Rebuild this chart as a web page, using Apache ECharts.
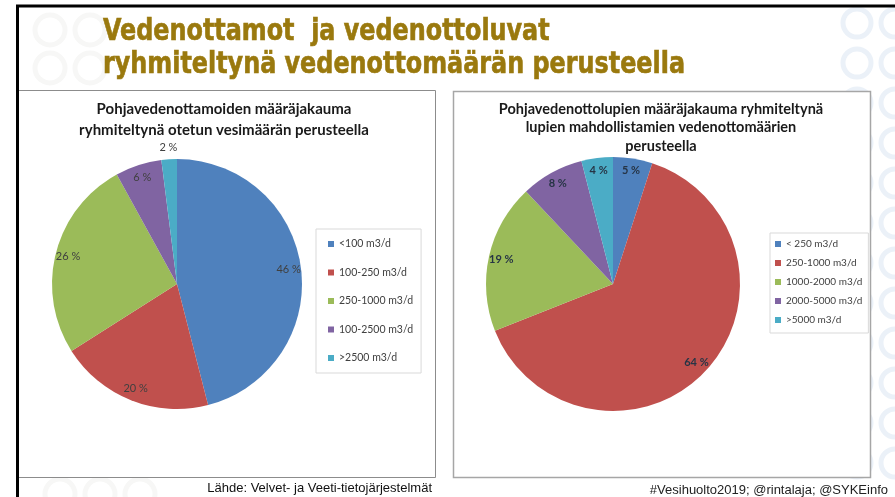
<!DOCTYPE html>
<html>
<head>
<meta charset="utf-8">
<script src="https://cdn.jsdelivr.net/npm/echarts@6/dist/echarts.min.js"></script>
<style>
  html, body { margin: 0; padding: 0; background: #fff; }
  #main { width: 895px; height: 497px; }
</style>
</head>
<body>
<div id="main"></div>
<script>
// pie 1: pohjavedenottamot
var leftNames = ['<100 m3/d', '100-250 m3/d', '250-1000 m3/d', '100-2500 m3/d', '>2500 m3/d'];
var leftValues = [46, 20, 26, 6, 2];
// pie 2: vedenottoluvat
var rightNames = ['< 250 m3/d', '250-1000 m3/d', '1000-2000 m3/d', '2000-5000 m3/d', '>5000 m3/d'];
var rightValues = [5, 64, 19, 8, 4];

var colors = ['#4f81bd', '#c0504d', '#9bbb59', '#8064a2', '#4bacc6'];

var titleFont = 'bold 30px "Liberation Sans Narrow", "DejaVu Sans Condensed", "Liberation Sans", sans-serif';

function fitScale(text, font, w) {
	var c = document.createElement('canvas').getContext('2d');
	c.font = font;
	return w / c.measureText(text).width;
}

function pieData(names, values) {
	return names.map(function(n, i) {
		return { name: n, value: values[i], itemStyle: { color: colors[i] } };
	});
}

// label ring: transparent pie on top so labels sit near the outer edge like excel
// only: list of indexes that get a label on this ring
function labelData(names, values, only) {
	return names.map(function(n, i) {
		return { name: n, value: values[i], label: { show: only.indexOf(i) >= 0 } };
	});
}

function legendData(names) {
	return names.map(function(n, i) {
		return { name: n, itemStyle: { color: colors[i] } };
	});
}

function labelRing(center, radius, names, values, only, lbl) {
	return {
		type: 'pie', center: center, radius: radius, startAngle: 90, clockwise: true, silent: true,
		itemStyle: { color: 'rgba(0,0,0,0)' }, emphasis: { disabled: true }, legendHoverLink: false,
		label: Object.assign({ show: true, position: 'inside', formatter: '{c} %', fontFamily: 'Lato', fontSize: 11 }, lbl),
		labelLine: { show: false },
		data: labelData(names, values, only)
	};
}

// background rings
var rings = [];
[23, 63, 103, 143, 183, 223, 263, 303, 343, 383, 423, 463].forEach(function(y) {
	[857, 895].forEach(function(x) {
		rings.push({ type: 'circle', z: -10, silent: true, shape: { cx: x, cy: y, r: 14 },
			style: { fill: null, stroke: '#ebf1f8', lineWidth: 5 } });
	});
});
[[50, 30], [90, 30], [50, 68], [90, 68], [60, 494], [100, 494], [140, 494]].forEach(function(p) {
	rings.push({ type: 'circle', z: -10, silent: true, shape: { cx: p[0], cy: p[1], r: 15 },
		style: { fill: null, stroke: '#f7f7f6', lineWidth: 5 } });
});

var line1 = 'Vedenottamot  ja vedenottoluvat';
var line2 = 'ryhmiteltynä vedenottomäärän perusteella';
var sx = fitScale(line2, titleFont, 582);

var myChart = echarts.init(document.getElementById('main'));
var option = {
	backgroundColor: '#ffffff',
	animation: false,
	title: [
		{
			text: 'Pohjavedenottamoiden määräjakauma\nryhmiteltynä otetun vesimäärän perusteella',
			left: 224, top: 99, textAlign: 'center', padding: 0,
			textStyle: { fontFamily: 'Lato', fontWeight: 'bold', fontSize: 15, color: '#1a1a1a', lineHeight: 21 }
		},
		{
			text: 'Pohjavedenottolupien määräjakauma ryhmiteltynä\nlupien mahdollistamien vedenottomäärien\nperusteella',
			left: 661, top: 100, textAlign: 'center', padding: 0,
			textStyle: { fontFamily: 'Lato', fontWeight: 'bold', fontSize: 14.5, color: '#1a1a1a', lineHeight: 18.5 }
		}
	],
	legend: [
		{
			orient: 'vertical', left: 316, top: 229,
			padding: [8, 8, 8, 12], itemGap: 14.5, itemWidth: 6, itemHeight: 6, icon: 'rect',
			borderColor: '#d9d9d9', borderWidth: 1, selectedMode: false,
			textStyle: { fontFamily: 'Lato', fontSize: 10.5, color: '#404040', lineHeight: 14 },
			data: legendData(leftNames)
		},
		{
			orient: 'vertical', left: 770, top: 233,
			padding: [5, 6, 7, 5], itemGap: 7, itemWidth: 6, itemHeight: 6, icon: 'rect',
			borderColor: '#d9d9d9', borderWidth: 1, selectedMode: false,
			textStyle: { fontFamily: 'Lato', fontSize: 10, color: '#404040', lineHeight: 12 },
			data: legendData(rightNames)
		}
	],
	graphic: rings.concat([
		// panels
		{ type: 'rect', z: -5, shape: { x: 17.5, y: 90.5, width: 418, height: 387 },
			style: { fill: '#fff', stroke: '#8c8c8c', lineWidth: 1 } },
		{ type: 'rect', z: -5, shape: { x: 453.5, y: 91.5, width: 417, height: 386 },
			style: { fill: '#fff', stroke: '#a6a6a6', lineWidth: 1.5 } },
		// black slide frame
		{ type: 'line', z: 1, shape: { x1: 16, y1: 6, x2: 895, y2: 6 }, style: { stroke: '#000', lineWidth: 3 } },
		{ type: 'line', z: 1, shape: { x1: 17.5, y1: 5, x2: 17.5, y2: 497 }, style: { stroke: '#000', lineWidth: 3 } },
		// slide title
		{ type: 'text', z: 2, x: 103, y: 47, scaleX: sx,
			style: { text: line1, font: titleFont, fill: '#9a790e', stroke: '#9a790e', lineWidth: 0.6, textVerticalAlign: 'bottom' } },
		{ type: 'text', z: 2, x: 103, y: 80, scaleX: sx,
			style: { text: line2, font: titleFont, fill: '#9a790e', stroke: '#9a790e', lineWidth: 0.6, textVerticalAlign: 'bottom' } },
		// source + footer
		{ type: 'text', z: 2, x: 432, y: 488,
			style: { text: 'Lähde: Velvet- ja Veeti-tietojärjestelmät', font: '13px "Liberation Sans", Arial, sans-serif',
				fill: '#111', textAlign: 'right', textVerticalAlign: 'middle' } },
		{ type: 'text', z: 2, x: 888, y: 490,
			style: { text: '#Vesihuolto2019; @rintalaja; @SYKEinfo', font: '13px "Liberation Sans", Arial, sans-serif',
				fill: '#222', textAlign: 'right', textVerticalAlign: 'middle' } }
	]),
	series: [
		{
			type: 'pie', center: [177, 284], radius: 125, startAngle: 90, clockwise: true,
			label: { show: false }, labelLine: { show: false }, emphasis: { disabled: true },
			data: pieData(leftNames, leftValues)
		},
		labelRing([177, 284], [94, 125], leftNames, leftValues, [0, 1, 2, 3], { color: '#404040' }),
		labelRing([177, 284], [126, 141], leftNames, leftValues, [4], { color: '#404040' }),
		{
			type: 'pie', center: [613, 284], radius: 127, startAngle: 90, clockwise: true,
			label: { show: false }, labelLine: { show: false }, emphasis: { disabled: true },
			data: pieData(rightNames, rightValues)
		},
		labelRing([613, 284], [96, 127], rightNames, rightValues, [0, 1, 2, 3, 4], { color: '#263445', fontWeight: 'bold' })
	]
};
myChart.setOption(option);
</script>
</body>
</html>
